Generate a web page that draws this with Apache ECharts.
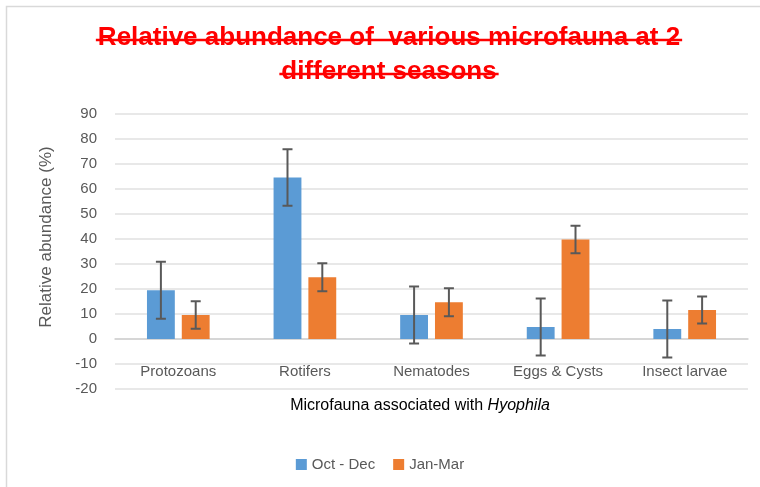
<!DOCTYPE html>
<html>
<head>
<meta charset="utf-8">
<script src="https://cdn.jsdelivr.net/npm/echarts@6/dist/echarts.min.js"></script>
<style>
  html, body { margin: 0; padding: 0; background: #fff; }
  #main { width: 760px; height: 487px; }
</style>
</head>
<body>
<div id="main"></div>
<script>
// data
var categories = ['Protozoans', 'Rotifers', 'Nematodes', 'Eggs & Cysts', 'Insect larvae'];
var octDec = [19.5, 64.6, 9.6, 4.8, 4.0];
var janMar = [9.6, 24.7, 14.7, 39.8, 11.6];
var octDecErr = [11.4, 11.3, 11.4, 11.4, 11.4];
var janMarErr = [5.5, 5.6, 5.6, 5.5, 5.4];
var yTicks = [-20, 90, 10]; // min, max, interval

var FONT = 'Liberation Sans, Arial, sans-serif';
var titleLines = ['Relative abundance of  various microfauna at 2', 'different seasons'];
var titleFont = 'bold 26px ' + FONT;

// width of the title lines, for the strike-through
var ctx = document.createElement('canvas').getContext('2d');
ctx.font = titleFont;
function textW(t) { return ctx.measureText(t).width; }

var myChart = echarts.init(document.getElementById('main'));

// error bars, one custom series per bar series
function errSeries(vals, errs, side) {
    var data = vals.map(function (v, i) { return [i, v, errs[i]]; });
    return {
        type: 'custom',
        name: 'err' + side,
        z: 5,
        renderItem: function (params, api) {
            var i = api.value(0), v = api.value(1), e = api.value(2);
            var band = api.size([1, 0])[0];
            var off = band * 0.1375 * side;
            var hi = api.coord([i, v + e]);
            var lo = api.coord([i, v - e]);
            var x = hi[0] + off;
            var cap = 5;
            var st = { stroke: '#595959', lineWidth: 2 };
            return {
                type: 'group',
                children: [
                    { type: 'line', shape: { x1: x, y1: hi[1], x2: x, y2: lo[1] }, style: st },
                    { type: 'line', shape: { x1: x - cap, y1: hi[1], x2: x + cap, y2: hi[1] }, style: st },
                    { type: 'line', shape: { x1: x - cap, y1: lo[1], x2: x + cap, y2: lo[1] }, style: st }
                ]
            };
        },
        encode: { x: 0, y: 1 },
        data: data,
        silent: true
    };
}

var titleGraphics = [];
var titleY = [38, 72];
titleLines.forEach(function (t, k) {
    var w = textW(t);
    titleGraphics.push({
        type: 'text', x: 389, y: titleY[k],
        style: { text: t, font: titleFont, fill: '#ff0000', align: 'center', verticalAlign: 'middle' }
    });
    titleGraphics.push({
        type: 'line',
        shape: { x1: 389 - w / 2 - 2, y1: titleY[k] + 2, x2: 389 + w / 2 + 2, y2: titleY[k] + 2 },
        style: { stroke: '#ff0000', lineWidth: 2.5 }
    });
});

var option = {
    animation: false,
    color: ['#5B9BD5', '#ED7D31'],
    graphic: [
        {
            type: 'rect', shape: { x: 6.5, y: 6.5, width: 900, height: 700 },
            style: { fill: 'none', stroke: '#d9d9d9', lineWidth: 1.5 }, silent: true
        },
        {
            type: 'text', x: 46, y: 237, rotation: Math.PI / 2,
            style: { text: 'Relative abundance (%)', font: '17px ' + FONT, fill: '#595959', align: 'center', verticalAlign: 'middle' }
        },
        {
            type: 'text', x: 420, y: 406,
            style: {
                text: '{a|Microfauna associated with }{b|Hyophila}',
                align: 'center', verticalAlign: 'middle',
                rich: {
                    a: { fontFamily: FONT, fontSize: 16, fill: '#000' },
                    b: { fontFamily: FONT, fontSize: 16, fontStyle: 'italic', fill: '#000' }
                }
            }
        }
    ].concat(titleGraphics),
    legend: {
        data: ['Oct - Dec', 'Jan-Mar'],
        left: 'center',
        top: 452,
        itemWidth: 11,
        itemHeight: 11,
        itemGap: 18,
        icon: 'rect',
        textStyle: { color: '#595959', fontSize: 15, fontFamily: FONT }
    },
    grid: { left: 115, right: 12, top: 114, bottom: 98 },
    xAxis: {
        type: 'category',
        data: categories,
        axisTick: { show: false },
        axisLine: { onZero: true, lineStyle: { color: '#d0d0d0', width: 1.5 } },
        axisLabel: { color: '#595959', fontSize: 15, fontFamily: FONT, margin: -25, interval: 0 }
    },
    yAxis: {
        type: 'value',
        min: yTicks[0],
        max: yTicks[1],
        interval: yTicks[2],
        axisLine: { show: false },
        axisTick: { show: false },
        axisLabel: { color: '#595959', fontSize: 15, fontFamily: FONT, margin: 18 },
        splitLine: { lineStyle: { color: '#e0e0e0', width: 1.5 } }
    },
    series: [
        { name: 'Oct - Dec', type: 'bar', data: octDec, barWidth: '22%', barGap: '25%' },
        { name: 'Jan-Mar', type: 'bar', data: janMar, barWidth: '22%', barGap: '25%' },
        errSeries(octDec, octDecErr, -1),
        errSeries(janMar, janMarErr, 1)
    ]
};
myChart.setOption(option);
</script>
</body>
</html>
